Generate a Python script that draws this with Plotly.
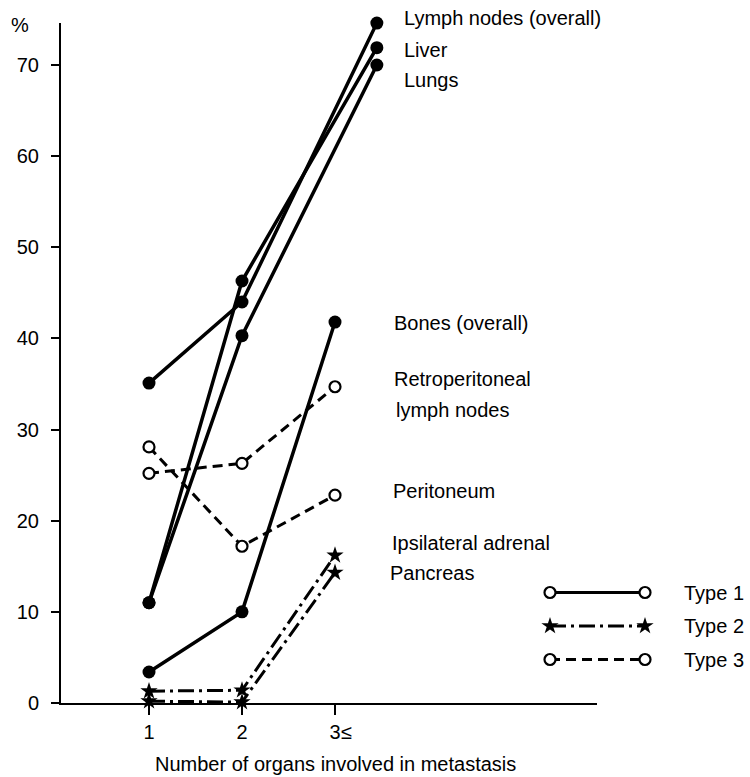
import plotly.graph_objects as go

# ---------------- data ----------------
x_ticks = [1, 2, 3]
x_ticktext = ["1", "2", "\u00a0\u00a03\u2264"]
x_top = [1, 2, 3.45]          # top three series end slightly right of the 3≤ tick

lymph_nodes = [35.1, 44.0, 74.6]
liver = [11.0, 46.3, 71.9]
lungs = [11.0, 40.3, 70.0]
bones = [3.4, 10.0, 41.8]
retroperitoneal = [25.2, 26.3, 34.7]
peritoneum = [28.1, 17.2, 22.8]
ipsilateral_adrenal = [1.3, 1.4, 16.2]
pancreas = [0.2, 0.1, 14.3]

y_ticks = [0, 10, 20, 30, 40, 50, 60, 70]

label_texts = ["Lymph nodes (overall)", "Liver", "Lungs", "Bones (overall)",
               "Retroperitoneal", "lymph nodes", "Peritoneum",
               "Ipsilateral adrenal", "Pancreas"]
label_x = [3.72, 3.72, 3.72, 3.61, 3.61, 3.63, 3.60, 3.59, 3.57]
label_y = [75.2, 71.7, 68.4, 41.7, 35.6, 32.1, 23.3, 17.6, 14.3]

legend_types = ["Type 1", "Type 2", "Type 3"]
legend_rows = [3, 2, 1]

# ---------------- styles ----------------
FONT = "Liberation Sans, Arial, Helvetica, sans-serif"
BLACK = "#000000"
FS = 20

W, H = 750, 777
L, R, T, B = 61, 5, 23, 74
PW = W - L - R
PH = H - T - B
main_right_px = 597
PX_PER_UNIT = 9.114
X0_PX, X_STEP = 149, 93   # pixel of x=1 and pixels per category step

def px_to_xpaper(px):
    return (px - L) / PW

def py_to_ypaper(py):
    return (H - B - py) / PH

def xdata_to_paper(x):
    return px_to_xpaper(X0_PX + X_STEP * (x - 1))

def ydata_to_paper(y):
    return y * PX_PER_UNIT / PH

fig = go.Figure()

def solid(x, y, name):
    fig.add_trace(go.Scatter(
        x=x, y=y, name=name, mode="lines+markers",
        line=dict(color=BLACK, width=3.5),
        marker=dict(symbol="circle", size=13, color=BLACK),
        cliponaxis=False, showlegend=False))

def dashed(x, y, name):
    fig.add_trace(go.Scatter(
        x=x, y=y, name=name, mode="lines+markers",
        line=dict(color=BLACK, width=3, dash="10px,6px"),
        marker=dict(symbol="circle", size=11, color="white",
                    line=dict(color=BLACK, width=2.2)),
        cliponaxis=False, showlegend=False))

def dashdot(x, y, name):
    fig.add_trace(go.Scatter(
        x=x, y=y, name=name, mode="lines+markers",
        line=dict(color=BLACK, width=3, dash="16px,5px,3px,5px"),
        marker=dict(symbol="star", size=13, color=BLACK),
        cliponaxis=False, showlegend=False))

solid(x_top, lymph_nodes, "Lymph nodes (overall)")
solid(x_top, liver, "Liver")
solid(x_top, lungs, "Lungs")
solid(x_ticks, bones, "Bones (overall)")
dashed(x_ticks, retroperitoneal, "Retroperitoneal lymph nodes")
dashed(x_ticks, peritoneum, "Peritoneum")
dashdot(x_ticks, ipsilateral_adrenal, "Ipsilateral adrenal")
dashdot(x_ticks, pancreas, "Pancreas")

# ---- custom legend on an inset axis ----
leg_styles = [
    dict(line=dict(color=BLACK, width=3),
         marker=dict(symbol="circle", size=11, color="white", line=dict(color=BLACK, width=2.2))),
    dict(line=dict(color=BLACK, width=3, dash="16px,5px,3px,5px"),
         marker=dict(symbol="star", size=13, color=BLACK)),
    dict(line=dict(color=BLACK, width=3, dash="10px,6px"),
         marker=dict(symbol="circle", size=11, color="white", line=dict(color=BLACK, width=2.2))),
]
for name, row, st in zip(legend_types, legend_rows, leg_styles):
    fig.add_trace(go.Scatter(
        x=[0, 1], y=[row, row], name=name, mode="lines+markers",
        xaxis="x2", yaxis="y2", cliponaxis=False, showlegend=False, **st))

row_gap = 33.5
leg_center = 626
leg_rows_px = [leg_center - row_gap, leg_center, leg_center + row_gap]

annotations = []
for t, lx, ly in zip(label_texts, label_x, label_y):
    annotations.append(dict(x=xdata_to_paper(lx), y=ydata_to_paper(ly),
                            xref="paper", yref="paper", text=t, showarrow=False,
                            xanchor="left", yanchor="middle",
                            font=dict(family=FONT, size=FS, color=BLACK)))
for name, rpx in zip(legend_types, leg_rows_px):
    annotations.append(dict(x=px_to_xpaper(682), y=py_to_ypaper(rpx),
                            xref="paper", yref="paper", text=name, showarrow=False,
                            xanchor="left", yanchor="middle",
                            font=dict(family=FONT, size=FS, color=BLACK)))
annotations.append(dict(x=px_to_xpaper(20), y=py_to_ypaper(25), xref="paper", yref="paper",
                        text="%", showarrow=False, xanchor="center", yanchor="middle",
                        font=dict(family=FONT, size=FS, color=BLACK)))
annotations.append(dict(x=px_to_xpaper(335), y=py_to_ypaper(764), xref="paper", yref="paper",
                        text="Number of organs involved in metastasis", showarrow=False,
                        xanchor="center", yanchor="middle",
                        font=dict(family=FONT, size=FS, color=BLACK)))

fig.update_layout(
    width=W, height=H,
    margin=dict(l=L, r=R, t=T, b=B, pad=0),
    paper_bgcolor="white", plot_bgcolor="white",
    font=dict(family=FONT, size=FS, color=BLACK),
    showlegend=False,
    annotations=annotations,
    xaxis=dict(
        domain=[0, (main_right_px - L) / PW],
        range=[1 - (X0_PX - L) / X_STEP, 1 + (main_right_px - X0_PX) / X_STEP],
        tickmode="array", tickvals=x_ticks, ticktext=x_ticktext,
        ticks="outside", ticklen=10, tickwidth=2, tickcolor=BLACK,
        showline=True, linewidth=2, linecolor=BLACK,
        showgrid=False, zeroline=False,
        tickfont=dict(family=FONT, size=FS, color=BLACK),
        ticklabelstandoff=0,
    ),
    yaxis=dict(
        domain=[0, 1],
        range=[0, PH / PX_PER_UNIT],
        tickmode="array", tickvals=y_ticks,
        ticks="outside", ticklen=8, tickwidth=2, tickcolor=BLACK,
        showline=True, linewidth=2, linecolor=BLACK,
        showgrid=False, zeroline=False,
        tickfont=dict(family=FONT, size=FS, color=BLACK),
        ticklabelstandoff=8,
    ),
    xaxis2=dict(domain=[px_to_xpaper(550), px_to_xpaper(645)], range=[0, 1],
                anchor="y2", visible=False),
    yaxis2=dict(domain=[py_to_ypaper(leg_center + 1.5 * row_gap),
                        py_to_ypaper(leg_center - 1.5 * row_gap)],
                range=[0.5, 3.5], anchor="x2", visible=False),
)

fig.write_html("out.html",
               config={"displayModeBar": False},
               post_script="document.body.style.margin='0';document.body.style.padding='0';")
